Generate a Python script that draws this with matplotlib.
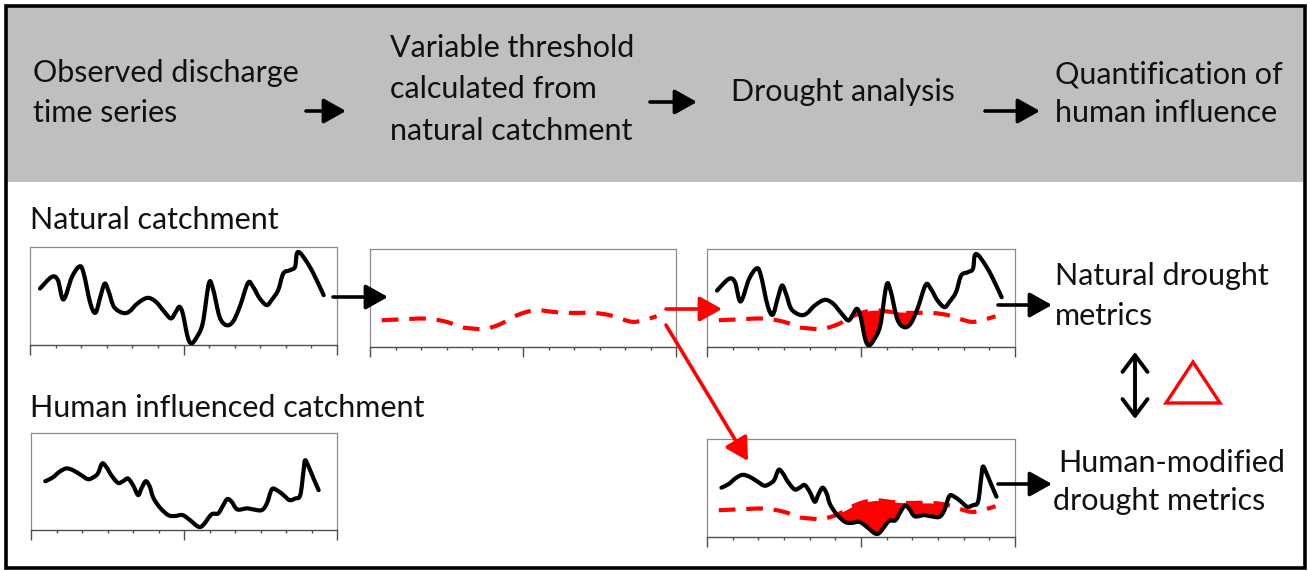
import numpy as np
import matplotlib
matplotlib.use("Agg")
import matplotlib.pyplot as plt
from matplotlib.patches import Rectangle, Polygon, PathPatch
from matplotlib.path import Path

# ---------------- data ----------------
nat_x = [0.39, 0.85, 1.09, 1.31, 1.64, 1.94, 2.10, 2.36, 2.56, 2.75, 2.92, 3.08,
         3.28, 3.61, 3.87, 4.20, 4.59, 4.92, 5.25, 5.51, 5.70, 5.84, 5.97, 6.16,
         6.30, 6.49, 6.75, 6.99, 7.15, 7.41, 7.67, 7.93, 8.20, 8.52, 8.72, 8.98,
         9.25, 9.44, 9.70, 9.90, 10.16, 10.36, 10.43, 10.56, 10.82, 11.08, 11.48]
nat_y = [57.6, 69.5, 66.1, 46.4, 69.5, 80.3, 72.9, 42.4, 32.9, 49.2, 62.7, 54.2,
         39.0, 32.9, 33.9, 42.4, 48.1, 44.1, 33.9, 27.1, 33.9, 39.0, 32.2, 8.5,
         1.7, 6.8, 22.0, 62.7, 57.6, 28.8, 20.3, 23.7, 39.0, 63.4, 59.3, 47.5,
         40.7, 45.8, 55.9, 72.9, 76.3, 79.7, 93.2, 93.9, 84.7, 72.9, 50.8]

thr_x = [0.46, 1.05, 2.22, 3.01, 3.53, 4.05, 4.51, 5.10, 5.62, 6.14, 6.60, 7.19,
         7.84, 8.76, 9.41, 9.93, 10.33, 10.72, 11.24]
thr_y = [27.3, 28.0, 29.0, 25.6, 20.5, 18.8, 18.4, 23.2, 30.7, 35.8, 37.5, 35.8,
         34.8, 34.8, 32.4, 28.0, 25.6, 27.3, 31.4]

hum_x = [0.56, 0.85, 1.11, 1.38, 1.64, 1.97, 2.23, 2.43, 2.62, 2.79, 2.95, 3.15,
         3.41, 3.61, 3.80, 4.00, 4.20, 4.33, 4.50, 4.66, 4.79, 5.05, 5.38, 5.64,
         5.94, 6.23, 6.56, 6.75, 7.08, 7.34, 7.54, 7.70, 7.87, 8.09, 8.46, 8.72,
         9.05, 9.25, 9.44, 9.64, 9.90, 10.14, 10.36, 10.56, 10.69, 10.75, 10.89,
         11.08, 11.28]
hum_y = [50.3, 54.1, 59.9, 63.4, 61.7, 56.5, 52.4, 54.1, 58.2, 68.5, 65.1, 56.5,
         48.6, 50.3, 53.1, 46.2, 36.0, 42.8, 50.3, 44.5, 33.6, 23.3, 15.4, 14.4,
         15.4, 10.3, 3.4, 5.1, 16.1, 17.1, 25.7, 31.9, 29.1, 21.2, 22.3, 21.2,
         20.5, 27.4, 41.8, 41.1, 36.0, 30.8, 32.5, 36.0, 61.7, 71.9, 65.1,
         53.1, 41.1]

header_steps = ["Observed discharge\ntime series",
                "Variable threshold\ncalculated from\nnatural catchment",
                "Drought analysis",
                "Quantification of\nhuman influence"]
row_labels = ["Natural catchment", "Human influenced catchment"]
metric_labels = ["Natural drought\nmetrics", "Human-modified\ndrought metrics"]

# ---------------- figure ----------------
W, H = 1308, 571
plt.rcParams["font.family"] = ["Lato", "DejaVu Sans"]
fig = plt.figure(figsize=(W / 100, H / 100), dpi=100)
fig.patch.set_facecolor("white")

RED = "#ff0000"
GRAY = "#bfbfbf"
FS = 22.0


def px_axes(x0, y0, x1, y1, z=1):
    return fig.add_axes([x0 / W, 1 - y1 / H, (x1 - x0) / W, (y1 - y0) / H], zorder=z)


# background (header band + frame)
bg = px_axes(0, 0, W, H, z=0)
bg.set_xlim(0, W)
bg.set_ylim(H, 0)
bg.axis("off")
bg.add_patch(Rectangle((5, 5), W - 10, 177, facecolor=GRAY, edgecolor="none"))
bg.add_patch(Rectangle((5.5, 5.5), W - 9, H - 9, facecolor="none",
                       edgecolor="black", lw=2.6))


def panel(rect):
    ax = px_axes(*rect, z=1)
    ax.set_xlim(0, 12)
    ax.set_ylim(0, 100)
    ax.set_facecolor("white")
    for s in ("top", "left", "right"):
        ax.spines[s].set_color("#8c8c8c")
        ax.spines[s].set_linewidth(0.9)
    ax.spines["bottom"].set_color("#4d4d4d")
    ax.spines["bottom"].set_linewidth(1.0)
    ax.set_yticks([])
    ax.set_xticks([0, 6, 12])
    ax.set_xticks([1, 2, 3, 4, 5, 7, 8, 9, 10, 11], minor=True)
    ax.tick_params(axis="x", which="major", direction="out", length=7,
                   width=1.0, color="#4d4d4d", labelbottom=False)
    ax.tick_params(axis="x", which="minor", direction="out", length=2.5,
                   width=1.0, color="#4d4d4d", labelbottom=False)
    return ax


def smooth_path(x, y):
    """Smooth Bezier path passing through the given points (rendering only)."""
    p = np.column_stack([x, y]).astype(float)
    n = len(p)
    verts = [p[0]]
    codes = [Path.MOVETO]
    for i in range(n - 1):
        p0 = p[i - 1] if i > 0 else p[i]
        p1 = p[i]
        p2 = p[i + 1]
        p3 = p[i + 2] if i + 2 < n else p[i + 1]
        c1 = p1 + (p2 - p0) / 6.0
        c2 = p2 - (p3 - p1) / 6.0
        verts += [c1, c2, p2]
        codes += [Path.CURVE4] * 3
    return Path(verts, codes)


def draw_series(ax, x, y):
    ax.add_patch(PathPatch(smooth_path(x, y), facecolor="none", edgecolor="black",
                           lw=3.0, capstyle="round", joinstyle="round", zorder=4))


def draw_thr(ax):
    ax.add_patch(PathPatch(smooth_path(thr_x, thr_y), facecolor="none",
                           edgecolor=RED, lw=3.0, linestyle=(0, (4.0, 2.6)),
                           zorder=2))


def draw_fill(ax, x, y):
    xa = np.asarray(x)
    ya = np.asarray(y)
    t = np.interp(xa, thr_x, thr_y)
    ax.fill_between(xa, ya, t, where=ya < t, interpolate=True, color=RED,
                    lw=0, zorder=3)


ax_nat = panel((30, 247, 337, 345))
draw_series(ax_nat, nat_x, nat_y)

ax_thr = panel((370, 249, 676, 347))
draw_thr(ax_thr)

ax_dro = panel((707, 249, 1015, 347))
draw_thr(ax_dro)
draw_fill(ax_dro, nat_x, nat_y)
draw_series(ax_dro, nat_x, nat_y)

ax_hum = panel((31, 433, 337, 530))
draw_series(ax_hum, hum_x, hum_y)

ax_hdr = panel((707, 439, 1015, 537))
draw_thr(ax_hdr)
draw_fill(ax_hdr, hum_x, hum_y)
draw_series(ax_hdr, hum_x, hum_y)

# overlay for text and arrows
ov = px_axes(0, 0, W, H, z=5)
ov.set_xlim(0, W)
ov.set_ylim(H, 0)
ov.axis("off")
ov.patch.set_alpha(0)


def put_text(txt, x, y0, dy=40, xs=None):
    for i, line in enumerate(txt.split("\n")):
        xx = x if xs is None else xs[i]
        ov.text(xx, y0 + i * dy, line, fontsize=FS, color="#111111",
                ha="left", va="baseline")


put_text(header_steps[0], 33, 82)
put_text(header_steps[1], 390, 57, dy=41.5)
put_text(header_steps[2], 731, 101)
put_text(header_steps[3], 1055, 83, dy=39)
put_text(row_labels[0], 30, 229)
put_text(row_labels[1], 30, 417)
put_text(metric_labels[0], 1055, 285)
put_text(metric_labels[1], 1058, 472, dy=38, xs=[1058, 1053])


def arrow(x0, y0, x1, y1, color="black", style="-|>,head_length=0.68,head_width=0.38",
          lw=2.6, ms=20):
    ov.annotate("", xy=(x1, y1), xytext=(x0, y0),
                arrowprops=dict(arrowstyle=style, color=color, lw=lw,
                                mutation_scale=ms, shrinkA=0, shrinkB=0))


# header arrows
arrow(306, 111, 346, 111)
arrow(650, 102, 697, 102)
arrow(985, 111, 1040, 111)
# body arrows
arrow(333, 297, 388, 297)
arrow(666, 309, 722, 309, color=RED)
arrow(666, 325, 748, 461, color=RED)
arrow(998, 305, 1052, 305)
arrow(998, 484, 1052, 484)
arrow(1135, 352, 1135, 419, style="<->,head_length=0.6,head_width=0.45", lw=2.8)

ov.add_patch(Polygon([(1166, 403), (1220, 403), (1193, 362)], closed=True,
                     facecolor="none", edgecolor=RED, lw=2.4, joinstyle="miter"))

fig.savefig("out.png", dpi=100)
